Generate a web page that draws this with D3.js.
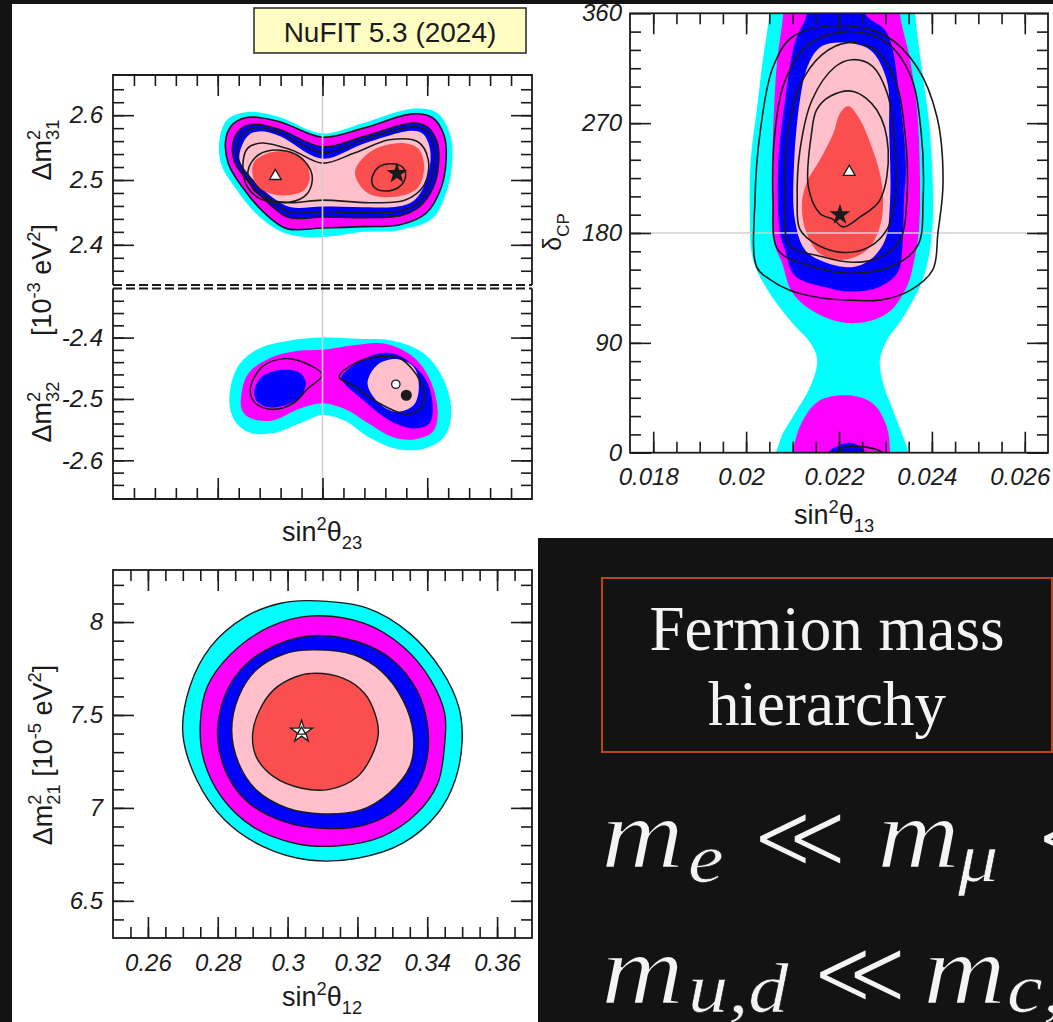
<!DOCTYPE html>
<html>
<head>
<meta charset="utf-8">
<script src="https://cdn.jsdelivr.net/npm/d3@7"></script>
<style>
  html, body { margin: 0; padding: 0; background: #131313; overflow: hidden; }
  svg { display: block; }
  text { white-space: pre; }
</style>
</head>
<body>
<svg id="chart" width="1053" height="1022"></svg>
<script>
// ---- sin^2(theta12) vs dm^2_21 (bottom left), contour outlines
const solar3sig = [[0.306,8.115],[0.323,8.074],[0.335,7.939],[0.344,7.742],[0.349,7.545],[0.350,7.366],[0.348,7.150],[0.343,6.971],[0.333,6.810],[0.320,6.729],[0.306,6.720],[0.293,6.792],[0.282,6.935],[0.274,7.150],[0.270,7.401],[0.272,7.652],[0.278,7.868],[0.288,8.029],[0.298,8.101]]
const solar99 = [[0.307,8.033],[0.322,7.993],[0.333,7.868],[0.341,7.688],[0.345,7.509],[0.345,7.348],[0.343,7.132],[0.337,6.971],[0.327,6.846],[0.314,6.795],[0.302,6.810],[0.290,6.899],[0.281,7.061],[0.276,7.258],[0.275,7.455],[0.277,7.652],[0.284,7.832],[0.295,7.975]]
const solar2sig = [[0.306,7.925],[0.320,7.894],[0.330,7.796],[0.337,7.634],[0.340,7.455],[0.340,7.276],[0.337,7.115],[0.331,6.989],[0.322,6.908],[0.310,6.890],[0.299,6.926],[0.289,7.025],[0.283,7.168],[0.280,7.366],[0.281,7.545],[0.285,7.706],[0.293,7.841]]
const solar90 = [[0.307,7.850],[0.319,7.823],[0.327,7.733],[0.333,7.581],[0.336,7.401],[0.335,7.222],[0.329,7.079],[0.321,6.989],[0.310,6.968],[0.300,6.998],[0.291,7.097],[0.286,7.240],[0.284,7.419],[0.286,7.599],[0.291,7.742],[0.299,7.828]]
const solar1sig = [[0.307,7.724],[0.316,7.697],[0.322,7.617],[0.325,7.509],[0.326,7.401],[0.324,7.276],[0.320,7.168],[0.312,7.100],[0.304,7.106],[0.296,7.168],[0.291,7.276],[0.290,7.401],[0.292,7.527],[0.296,7.635],[0.302,7.703]]
const solarBest = [0.304, 7.41]
const th12Ticks = [0.26, 0.28, 0.3, 0.32, 0.34, 0.36]
const th12Labels = ['0.26', '0.28', '0.3', '0.32', '0.34', '0.36']
const dm21Ticks = [6.5, 7, 7.5, 8]
const dm21Labels = ['6.5', '7', '7.5', '8']

// ---- sin^2(theta23) vs dm^2_31 (normal ordering, top half of the left panel)
const no3sig = [[0.402,2.566],[0.409,2.593],[0.428,2.605],[0.459,2.597],[0.500,2.572],[0.539,2.588],[0.586,2.610],[0.610,2.603],[0.622,2.569],[0.624,2.531],[0.619,2.485],[0.605,2.441],[0.574,2.423],[0.539,2.420],[0.500,2.412],[0.466,2.417],[0.440,2.443],[0.418,2.485],[0.403,2.526]]
const no99 = [[0.408,2.566],[0.415,2.587],[0.430,2.597],[0.459,2.590],[0.500,2.566],[0.539,2.580],[0.586,2.602],[0.605,2.596],[0.616,2.569],[0.618,2.531],[0.613,2.487],[0.599,2.449],[0.574,2.431],[0.539,2.428],[0.500,2.426],[0.466,2.425],[0.444,2.450],[0.424,2.488],[0.410,2.526]]
const no2sig = [[0.415,2.560],[0.423,2.580],[0.435,2.586],[0.459,2.578],[0.500,2.551],[0.539,2.567],[0.586,2.588],[0.600,2.582],[0.609,2.560],[0.611,2.531],[0.606,2.490],[0.592,2.458],[0.574,2.445],[0.539,2.442],[0.500,2.443],[0.468,2.442],[0.450,2.462],[0.432,2.492],[0.416,2.528]]
const no90 = [[0.423,2.553],[0.430,2.570],[0.440,2.575],[0.459,2.568],[0.500,2.533],[0.539,2.556],[0.586,2.576],[0.596,2.571],[0.602,2.552],[0.603,2.528],[0.598,2.494],[0.587,2.468],[0.572,2.459],[0.539,2.458],[0.500,2.459],[0.470,2.458],[0.455,2.470],[0.436,2.497],[0.421,2.530]]
const no1sigLeft = [[0.434,2.526],[0.447,2.541],[0.466,2.544],[0.482,2.531],[0.488,2.505],[0.483,2.485],[0.469,2.477],[0.450,2.479],[0.436,2.495]]
const no1sigRight = [[0.531,2.512],[0.545,2.543],[0.574,2.557],[0.591,2.549],[0.597,2.523],[0.591,2.488],[0.569,2.474],[0.543,2.480]]
// black lines: the second analysis
const noLineMid = [[0.419,2.557],[0.427,2.575],[0.438,2.581],[0.459,2.573],[0.500,2.542],[0.539,2.562],[0.586,2.582],[0.598,2.577],[0.606,2.556],[0.607,2.530],[0.602,2.492],[0.590,2.463],[0.573,2.452],[0.539,2.450],[0.500,2.451],[0.469,2.450],[0.453,2.466],[0.435,2.495],[0.420,2.529]]
const noLinePeanut = [[0.428,2.548],[0.442,2.557],[0.471,2.546],[0.500,2.526],[0.531,2.542],[0.564,2.562],[0.591,2.559],[0.601,2.531],[0.597,2.492],[0.579,2.469],[0.545,2.465],[0.500,2.469],[0.469,2.465],[0.442,2.470],[0.428,2.490],[0.424,2.520]]
const noLineLeft = [[0.429,2.515],[0.439,2.539],[0.460,2.546],[0.479,2.535],[0.490,2.508],[0.486,2.480],[0.469,2.466],[0.445,2.472],[0.433,2.488]]
const noLineRight = [[0.547,2.500],[0.553,2.519],[0.566,2.525],[0.577,2.519],[0.579,2.503],[0.572,2.488],[0.560,2.483],[0.550,2.488]]
const noLocal = [0.455, 2.506]
const noBest = [0.571, 2.510]
const dm31Ticks = [2.4, 2.5, 2.6]
const dm31Labels = ['2.4', '2.5', '2.6']

// ---- sin^2(theta23) vs dm^2_32 (inverted ordering, bottom half of the left panel)
const io3sig = [[0.411,-2.502],[0.419,-2.448],[0.439,-2.418],[0.468,-2.405],[0.500,-2.400],[0.534,-2.402],[0.567,-2.405],[0.597,-2.426],[0.616,-2.470],[0.623,-2.524],[0.616,-2.562],[0.597,-2.581],[0.570,-2.581],[0.544,-2.562],[0.521,-2.535],[0.500,-2.526],[0.478,-2.540],[0.452,-2.556],[0.429,-2.554],[0.416,-2.535]]
const io99 = [[0.422,-2.502],[0.429,-2.459],[0.449,-2.434],[0.475,-2.422],[0.500,-2.420],[0.528,-2.413],[0.560,-2.410],[0.587,-2.432],[0.603,-2.470],[0.610,-2.524],[0.605,-2.554],[0.587,-2.566],[0.567,-2.562],[0.544,-2.540],[0.521,-2.516],[0.500,-2.507],[0.478,-2.516],[0.452,-2.535],[0.432,-2.532],[0.424,-2.521]]
const io2sigLeft = [[0.435,-2.486],[0.442,-2.464],[0.459,-2.453],[0.477,-2.456],[0.484,-2.472],[0.480,-2.494],[0.465,-2.510],[0.447,-2.513],[0.437,-2.503]]
const io2sigRight = [[0.518,-2.464],[0.547,-2.429],[0.570,-2.427],[0.597,-2.464],[0.605,-2.507],[0.602,-2.540],[0.587,-2.548],[0.564,-2.535],[0.541,-2.505],[0.521,-2.475]]
const io90 = [[0.543,-2.475],[0.552,-2.445],[0.570,-2.435],[0.587,-2.448],[0.592,-2.480],[0.587,-2.510],[0.570,-2.521],[0.554,-2.507]]
const ioLineLeft = [[0.431,-2.486],[0.442,-2.448],[0.465,-2.434],[0.488,-2.445],[0.500,-2.461],[0.486,-2.483],[0.472,-2.507],[0.452,-2.517],[0.436,-2.507]]
const ioLineRight = [[0.516,-2.464],[0.531,-2.442],[0.554,-2.431],[0.574,-2.434],[0.593,-2.470],[0.597,-2.502],[0.590,-2.521],[0.577,-2.524],[0.554,-2.507],[0.531,-2.480]]
const ioLocal = [0.570, -2.476]
const ioBest = [0.580, -2.494]
const dm32Ticks = [-2.6, -2.5, -2.4]
const dm32Labels = ['-2.6', '-2.5', '-2.4']

// ---- sin^2(theta13) vs delta_CP (top right); delta is periodic so shapes run past 0 and 360
const cp3sig = [[0.0205,390],[0.0205,360],[0.02036,322],[0.02023,281],[0.0201,240],[0.02008,199],[0.02015,158],[0.0205,131],[0.0210,106],[0.02138,90],[0.02153,76],[0.02138,54],[0.0210,29],[0.02073,10],[0.02062,-25],[0.02349,-25],[0.02349,0],[0.02338,13],[0.02316,35],[0.02295,57],[0.02288,76],[0.02303,92],[0.02338,111],[0.02374,136],[0.02392,158],[0.02402,191],[0.02396,262],[0.02378,316],[0.02364,360],[0.02364,390]]
const cp99Top = [[0.0208,390],[0.0208,360],[0.02067,322],[0.0206,281],[0.02056,232],[0.02056,199],[0.02062,170],[0.02077,156],[0.0210,131],[0.02153,114],[0.02228,106],[0.02303,114],[0.02346,136],[0.02362,158],[0.02372,182],[0.02374,232],[0.02368,281],[0.02353,322],[0.02331,360],[0.02331,390]]
const cp99Bottom = [[0.0210,-25],[0.0210,0],[0.02123,27],[0.02159,43],[0.0222,47],[0.02274,40],[0.02303,21],[0.0231,0],[0.0231,-25]]
const cp2sigTop = [[0.02131,390],[0.02131,360],[0.02105,336],[0.02084,289],[0.02069,234],[0.02073,180],[0.02084,166],[0.02105,145],[0.02166,136],[0.02228,132],[0.02288,136],[0.02327,148],[0.02336,166],[0.0234,207],[0.02344,234],[0.02331,289],[0.02303,344],[0.02256,360],[0.02256,390]]
const cp2sigBottom = [[0.0217,-20],[0.02177,0],[0.0220,6],[0.02227,8],[0.02249,4],[0.02256,0],[0.0226,-20]]
const cp90 = [[0.02159,332],[0.02202,336],[0.02267,330],[0.02303,305],[0.02308,264],[0.0231,207],[0.02299,174],[0.02267,158],[0.02228,152],[0.0217,156],[0.02127,166],[0.02105,191],[0.02103,234],[0.02116,289],[0.02133,317]]
const cp1sig = [[0.0222,284],[0.02245,273],[0.02267,254],[0.02288,229],[0.02295,207],[0.02288,185],[0.0226,166],[0.02209,158],[0.02159,163],[0.0213,180],[0.0212,202],[0.0213,221],[0.02159,240],[0.02188,262],[0.02202,278]]
const cpLine3sig = [[0.02023,152],[0.02019,207],[0.0203,262],[0.02058,316],[0.02101,341],[0.02202,350],[0.02303,341],[0.02368,316],[0.02411,275],[0.02424,221],[0.02413,180],[0.02402,150],[0.02353,133],[0.02288,125],[0.02228,125],[0.02159,127],[0.02094,133],[0.02051,142]]
const cpLine99 = [[0.02069,166],[0.02058,207],[0.02062,262],[0.02084,305],[0.02133,334],[0.02213,345],[0.02299,337],[0.02353,310],[0.02377,262],[0.02381,207],[0.0237,170],[0.02321,154],[0.02228,147],[0.02138,153]]
const cpLine2sig = [[0.02094,170],[0.02084,207],[0.0209,262],[0.02116,301],[0.02163,326],[0.02219,336],[0.02278,330],[0.02321,305],[0.02342,262],[0.02346,207],[0.02331,174],[0.02288,160],[0.02228,156],[0.02159,161]]
const cpLine90 = [[0.02116,183],[0.0211,207],[0.02116,248],[0.02142,289],[0.02191,316],[0.02228,322],[0.02271,317],[0.02305,293],[0.02321,248],[0.02321,207],[0.02305,184],[0.02267,169],[0.02213,164],[0.02155,170]]
const cpLine1sig = [[0.02141,262],[0.02134,218],[0.02159,196],[0.02188,191],[0.02209,185],[0.02245,193],[0.02288,207],[0.02306,248],[0.02281,281],[0.02231,296],[0.02181,292],[0.02152,281]]
const cpLineWrap = [[0.0219,-6],[0.0221,4],[0.0225,5],[0.0229,1],[0.0231,-6]]
const cpLocal = [0.02222, 230]
const cpBest = [0.02202, 195]
const th13Ticks = [0.018, 0.02, 0.022, 0.024, 0.026]
const th13Labels = ['0.018', '0.02', '0.022', '0.024', '0.026']
const dcpTicks = [0, 90, 180, 270, 360]
const dcpLabels = ['0', '90', '180', '270', '360']

const SANS = '"Liberation Sans", Arial, Helvetica, sans-serif'
const SERIF = '"Liberation Serif", "Times New Roman", serif'
const INK = '#1b1b1b'
const SLIDE = '#131313'
const COL = { cyan: '#00ffff', magenta: '#ff00ff', blue: '#0000ff', pink: '#ffc0cb', red: '#fb4f4f', grid: '#cfcfcf' }
const MAJOR = 21
const MINOR = 11

const svg = d3.select('#chart')

// white areas of the screenshot, dark slide behind
svg.append('rect').attr('width', 1053).attr('height', 1022).attr('fill', SLIDE)
svg.append('rect').attr('x', 12).attr('y', 4).attr('width', 526).attr('height', 1018).attr('fill', '#fff')
svg.append('rect').attr('x', 538).attr('y', 4).attr('width', 515).attr('height', 534).attr('fill', '#fff')

function clipGroup(id, x, y) {
  const [x0, x1] = x.range()
  const [y1, y0] = y.range()
  svg.append('clipPath').attr('id', id)
    .append('rect').attr('x', x0).attr('y', y0).attr('width', x1 - x0).attr('height', y1 - y0)
  return svg.append('g').attr('clip-path', `url(#${id})`)
}

function closedLine(x, y) {
  return d3.line()
    .curve(d3.curveCatmullRomClosed.alpha(0.5))
    .x(d => x(d[0]))
    .y(d => y(d[1]))
}

function fillRegions(g, x, y, regions, outline = false) {
  const line = closedLine(x, y)
  regions.forEach(([pts, color]) => {
    g.append('path')
      .datum(pts)
      .attr('d', line)
      .attr('fill', color)
      .attr('stroke', outline ? INK : 'none')
      .attr('stroke-width', 1.4)
  })
}

function strokeLoops(g, x, y, loops, width = 1.6) {
  const line = closedLine(x, y)
  loops.forEach(pts => {
    g.append('path')
      .datum(pts)
      .attr('d', line)
      .attr('fill', 'none')
      .attr('stroke', INK)
      .attr('stroke-width', width)
  })
}

function marker(g, x, y, p, type, size, fill) {
  g.append('path')
    .attr('d', d3.symbol(type, size))
    .attr('transform', `translate(${x(p[0])},${y(p[1])})`)
    .attr('fill', fill)
    .attr('stroke', INK)
    .attr('stroke-width', 1.3)
}

// keep ticks that are inside the frame, not on its edge
function inside(scale, values) {
  const [a, b] = d3.extent(scale.range())
  return values.filter(v => scale(v) > a + 2 && scale(v) < b - 2)
}

function ticks(scale, side, at, values, size, labels = null, padding = 10) {
  const maker = { left: d3.axisLeft, right: d3.axisRight, top: d3.axisTop, bottom: d3.axisBottom }[side]
  const axis = maker(scale)
    .tickValues(values)
    .tickSizeInner(-size)
    .tickSizeOuter(0)
    .tickPadding(padding)
    .tickFormat((d, i) => labels ? labels[i] : '')
  const vertical = side === 'left' || side === 'right'
  const g = svg.append('g')
    .attr('transform', vertical ? `translate(${at},0)` : `translate(0,${at})`)
    .call(axis)
  g.select('.domain').remove()
  g.selectAll('line').attr('stroke', INK).attr('stroke-width', 1.6)
  g.selectAll('text')
    .attr('font-family', SANS)
    .attr('font-style', 'italic')
    .attr('font-size', 24)
    .attr('fill', INK)
  return g
}

function boxTicks(x, y, { xMajor, xMinor, yMajor, yMinor, xLabels, yLabels, sides, xPad = 16, yPad = 10, xShift = 0 }) {
  const [x0, x1] = x.range()
  const [y1, y0] = y.range()
  if (sides.includes('left')) {
    ticks(y, 'left', x0, inside(y, yMinor), MINOR)
    ticks(y, 'left', x0, yMajor, MAJOR, yLabels, yPad)
    ticks(y, 'right', x1, inside(y, yMinor), MINOR)
    ticks(y, 'right', x1, yMajor, MAJOR)
  }
  if (sides.includes('top')) {
    ticks(x, 'top', y0, inside(x, xMinor), MINOR)
    ticks(x, 'top', y0, xMajor, MAJOR)
  }
  if (sides.includes('bottom')) {
    ticks(x, 'bottom', y1, inside(x, xMinor), MINOR)
    ticks(x, 'bottom', y1, xMajor, MAJOR, xLabels, xPad)
      .selectAll('text').attr('dx', xShift)
  }
}

// axis title with super/subscripts; parts = [text, 'sup'|'sub'|undefined, back-shift]
function richText(cx, cy, size, parts, rotate = false, fill = INK) {
  const t = svg.append('text')
    .attr('transform', `translate(${cx},${cy})${rotate ? ' rotate(-90)' : ''}`)
    .attr('text-anchor', 'middle')
    .attr('font-family', SANS)
    .attr('font-size', size)
    .attr('fill', fill)
  let shift = 0
  parts.forEach(([str, kind, back]) => {
    const target = kind === 'sup' ? -0.42 * size : kind === 'sub' ? 0.3 * size : 0
    t.append('tspan')
      .attr('dx', back ? -back : 0)
      .attr('dy', target - shift)
      .attr('font-size', kind ? size * 0.68 : size)
      .text(str)
    shift = target
  })
}

// ================= left panel: sin^2 theta23 =================
const th23 = d3.scaleLinear().domain([0.3, 0.7]).range([113, 532])
const yNO = d3.scaleLinear().domain([2.338, 2.662]).range([285, 75])
const yIO = d3.scaleLinear().domain([-2.663, -2.32]).range([499, 288.5])

const gNO = clipGroup('clip-no', th23, yNO)
fillRegions(gNO, th23, yNO, [[no3sig, COL.cyan], [no99, COL.magenta], [no2sig, COL.blue], [no90, COL.pink],
  [no1sigLeft, COL.red], [no1sigRight, COL.red]])
const gIO = clipGroup('clip-io', th23, yIO)
fillRegions(gIO, th23, yIO, [[io3sig, COL.cyan], [io99, COL.magenta], [io2sigLeft, COL.blue], [io2sigRight, COL.blue],
  [io90, COL.pink]])

svg.append('line')
  .attr('x1', th23(0.5)).attr('x2', th23(0.5))
  .attr('y1', yNO.range()[1]).attr('y2', yIO.range()[0])
  .attr('stroke', COL.grid).attr('stroke-width', 1.6)

strokeLoops(gNO, th23, yNO, [no99, no2sig, noLineMid, noLinePeanut, noLineLeft, noLineRight])
strokeLoops(gIO, th23, yIO, [ioLineLeft, ioLineRight])
marker(gNO, th23, yNO, noLocal, d3.symbolTriangle, 60, '#fff')
marker(gNO, th23, yNO, noBest, d3.symbolStar, 90, INK)
marker(gIO, th23, yIO, ioLocal, d3.symbolCircle, 55, '#fff')
marker(gIO, th23, yIO, ioBest, d3.symbolCircle, 75, INK)

// frame: solid outside, dashed where the two halves meet
const frameA = svg.append('g').attr('stroke', INK).attr('stroke-width', 1.8).attr('fill', 'none')
frameA.append('path').attr('d', `M113,285V75H532V285`)
frameA.append('path').attr('d', `M113,288.5V499H532V288.5`)
frameA.append('line').attr('x1', 113).attr('x2', 532).attr('y1', 285).attr('y2', 285).attr('stroke-dasharray', '9,4')
frameA.append('line').attr('x1', 113).attr('x2', 532).attr('y1', 288.5).attr('y2', 288.5).attr('stroke-dasharray', '9,4')

const th23Minor = d3.range(0.32, 0.69, 0.02)
boxTicks(th23, yNO, { xMajor: [0.4, 0.5, 0.6], xMinor: th23Minor, yMajor: dm31Ticks, yMinor: d3.range(2.34, 2.67, 0.02),
  yLabels: dm31Labels, sides: ['left', 'top'] })
boxTicks(th23, yIO, { xMajor: [0.4, 0.5, 0.6], xMinor: th23Minor, yMajor: dm32Ticks, yMinor: d3.range(-2.66, -2.31, 0.02),
  yLabels: dm32Labels, xLabels: null, sides: ['left', 'bottom'] })

richText(322, 541, 27, [['sin'], ['2', 'sup'], ['θ'], ['23', 'sub']])
richText(51, 150, 27, [['Δm'], ['2', 'sup'], ['31', 'sub', 10.2]], true)
richText(51, 280, 27, [['[10'], ['-3', 'sup'], [' eV'], ['2', 'sup'], [']']], true)
richText(51, 412, 27, [['Δm'], ['2', 'sup'], ['32', 'sub', 10.2]], true)

// NuFIT tag
svg.append('rect').attr('x', 254).attr('y', 8).attr('width', 272).attr('height', 45)
  .attr('fill', '#fffdc2').attr('stroke', '#333').attr('stroke-width', 1.6)
svg.append('text').attr('x', 390).attr('y', 42).attr('text-anchor', 'middle')
  .attr('font-family', SANS).attr('font-size', 28).attr('fill', INK).text('NuFIT 5.3 (2024)')

// ================= bottom left: sin^2 theta12 =================
const th12 = d3.scaleLinear().domain([0.25, 0.37]).range([113, 532])
const dm21 = d3.scaleLinear().domain([6.3, 8.28]).range([938, 570])
const gSol = clipGroup('clip-sol', th12, dm21)
fillRegions(gSol, th12, dm21, [[solar3sig, COL.cyan], [solar99, COL.magenta], [solar2sig, COL.blue],
  [solar90, COL.pink], [solar1sig, COL.red]], true)
marker(gSol, th12, dm21, solarBest, d3.symbolStar, 150, '#fff')
marker(gSol, th12, dm21, solarBest, d3.symbolTriangle, 30, '#fff')
svg.append('rect').attr('x', 113).attr('y', 570).attr('width', 419).attr('height', 368)
  .attr('fill', 'none').attr('stroke', INK).attr('stroke-width', 1.8)
boxTicks(th12, dm21, { xMajor: th12Ticks, xMinor: d3.range(0.255, 0.37, 0.005), yMajor: dm21Ticks,
  yMinor: d3.range(6.4, 8.3, 0.1), xLabels: th12Labels, yLabels: dm21Labels, sides: ['left', 'top', 'bottom'] })
richText(322, 1006, 27, [['sin'], ['2', 'sup'], ['θ'], ['12', 'sub']])
richText(52, 755, 27, [['Δm'], ['2', 'sup'], ['21', 'sub', 10.2], [' [10'], ['-5', 'sup'], [' eV'], ['2', 'sup'], [']']], true)

// ================= top right: sin^2 theta13 vs delta_CP =================
const th13 = d3.scaleLinear().domain([0.0175, 0.0265]).range([630, 1048])
const dcp = d3.scaleLinear().domain([0, 360]).range([452.7, 13.3])
const gCP = clipGroup('clip-cp', th13, dcp)
fillRegions(gCP, th13, dcp, [[cp3sig, COL.cyan], [cp99Top, COL.magenta], [cp99Bottom, COL.magenta],
  [cp2sigTop, COL.blue], [cp2sigBottom, COL.blue], [cp90, COL.pink], [cp1sig, COL.red]])
gCP.append('line')
  .attr('x1', th13.range()[0]).attr('x2', th13.range()[1])
  .attr('y1', dcp(180)).attr('y2', dcp(180))
  .attr('stroke', COL.grid).attr('stroke-width', 1.6)
strokeLoops(gCP, th13, dcp, [cpLine3sig, cpLine99, cpLine2sig, cpLine90, cpLine1sig])
gCP.append('path')
  .datum(cpLineWrap)
  .attr('d', d3.line().curve(d3.curveCatmullRom.alpha(0.5)).x(d => th13(d[0])).y(d => dcp(d[1])))
  .attr('fill', 'none').attr('stroke', INK).attr('stroke-width', 1.6)
marker(gCP, th13, dcp, cpLocal, d3.symbolTriangle, 60, '#fff')
marker(gCP, th13, dcp, cpBest, d3.symbolStar, 90, INK)
svg.append('rect').attr('x', 630).attr('y', 13.3).attr('width', 418).attr('height', 439.4)
  .attr('fill', 'none').attr('stroke', INK).attr('stroke-width', 1.8)
boxTicks(th13, dcp, { xMajor: th13Ticks, xMinor: d3.range(0.018, 0.0266, 0.0005), yMajor: dcpTicks,
  yMinor: d3.range(15, 360, 15), xLabels: th13Labels, yLabels: dcpLabels, sides: ['left', 'top', 'bottom'],
  xPad: 15, yPad: 8, xShift: -5 })
richText(834, 524, 27, [['sin'], ['2', 'sup'], ['θ'], ['13', 'sub']])
richText(561, 232, 25, [['δ'], ['CP', 'sub']], true)

// ================= slide text on the dark area =================
const slide = svg.append('g')
slide.append('rect').attr('x', 538).attr('y', 538).attr('width', 515).attr('height', 484).attr('fill', SLIDE)
slide.append('rect').attr('x', 602).attr('y', 578).attr('width', 450).attr('height', 174)
  .attr('fill', 'none').attr('stroke', '#b9471d').attr('stroke-width', 2)
slide.selectAll('text.head')
  .data(['Fermion mass', 'hierarchy'])
  .enter()
  .append('text')
  .attr('x', 827)
  .attr('y', (d, i) => 650 + i * 75)
  .attr('text-anchor', 'middle')
  .attr('font-family', SERIF)
  .attr('font-size', 63)
  .attr('fill', '#f4f4f4')
  .text(d => d)

const mathTokens = [
  { t: 'm', x: 601, y: 867, size: 100, kind: 'big' },
  { t: 'e', x: 688, y: 882, size: 70, kind: 'small' },
  { t: '≪', x: 752, y: 868, size: 92, kind: 'rel' },
  { t: 'm', x: 877, y: 867, size: 100, kind: 'big' },
  { t: 'μ', x: 958, y: 881, size: 70, kind: 'small' },
  { t: '≪', x: 1036, y: 868, size: 92, kind: 'rel' },
  { t: 'm', x: 601, y: 1003, size: 100, kind: 'big' },
  { t: 'u,d', x: 688, y: 1012, size: 70, kind: 'small' },
  { t: '≪', x: 812, y: 1004, size: 92, kind: 'rel' },
  { t: 'm', x: 923, y: 1003, size: 100, kind: 'big' },
  { t: 'c,', x: 1007, y: 1012, size: 70, kind: 'small' }
]
const thinning = { big: 1.6, small: 0.6, rel: 3 }
// a stroke in the slide colour thins the glyphs towards the light TeX look
slide.selectAll('text.math')
  .data(mathTokens)
  .enter()
  .append('text')
  .attr('transform', d => `translate(${d.x},${d.y}) scale(${d.kind === 'rel' ? 1 : 1.15},1)`)
  .attr('font-family', d => d.kind === 'rel' ? '"DejaVu Sans", sans-serif' : SERIF)
  .attr('font-style', d => d.kind === 'rel' ? 'normal' : 'italic')
  .attr('font-size', d => d.size)
  .attr('fill', '#f4f4f4')
  .attr('stroke', SLIDE)
  .attr('stroke-width', d => thinning[d.kind])
  .text(d => d.t)
</script>
</body>
</html>
